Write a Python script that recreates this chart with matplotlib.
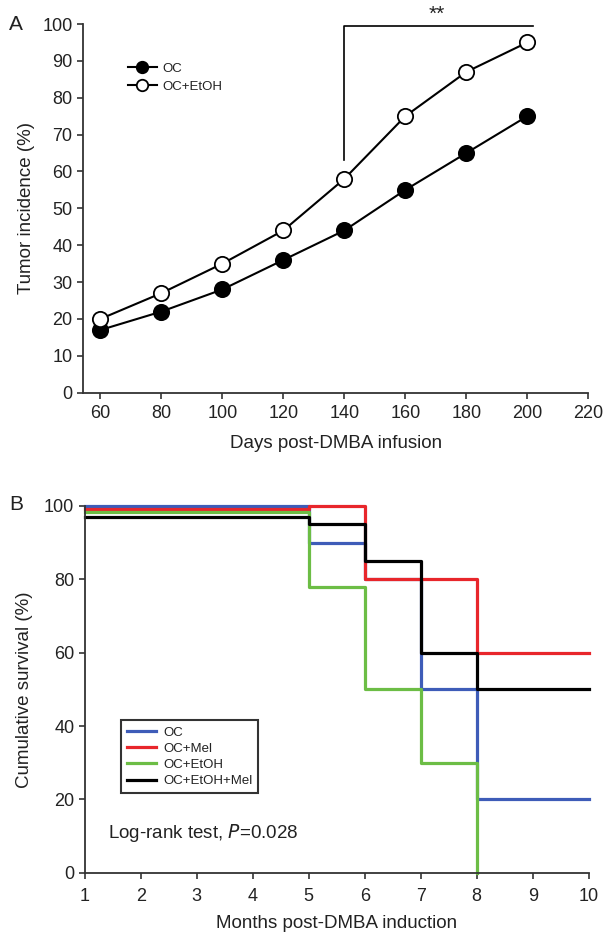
""" Tumor incidence (A) and cumulative survival (B) after DMBA. """

import matplotlib.pyplot as plt

plt.rcParams['font.family'] = ['Liberation Sans', 'DejaVu Sans']

# Panel A: tumor incidence
days = [60, 80, 100, 120, 140, 160, 180, 200]
oc_incidence = [17, 22, 28, 36, 44, 55, 65, 75]
oc_etoh_incidence = [20, 27, 35, 44, 58, 75, 87, 95]
a_xticks = [60, 80, 100, 120, 140, 160, 180, 200, 220]
a_yticks = [0, 10, 20, 30, 40, 50, 60, 70, 80, 90, 100]

# Panel B: survival steps (month, % surviving)
oc_months = [1, 5, 6, 7, 8, 10]
oc_surv = [100, 90, 80, 50, 20, 20]
mel_months = [1, 5, 6, 8, 10]
mel_surv = [99.3, 100, 80, 60, 60]
etoh_months = [1, 5, 6, 7, 8]
etoh_surv = [98.3, 78, 50, 30, 0]
etoh_mel_months = [1, 5, 6, 7, 8, 10]
etoh_mel_surv = [97, 95, 85, 60, 50, 50]
b_xticks = list(range(1, 11))
b_yticks = [0, 20, 40, 60, 80, 100]

TXT = '#222222'


def style_axes(ax):
    ax.spines['top'].set_visible(False)
    ax.spines['right'].set_visible(False)
    for s in ['left', 'bottom']:
        ax.spines[s].set_linewidth(1.3)
        ax.spines[s].set_color('#333333')
    ax.tick_params(direction='out', length=4, width=1.2, labelsize=13,
                   colors='#333333', labelcolor=TXT)


def main():
    fig = plt.figure(figsize=(6.08, 9.36), dpi=100)

    # ---- Panel A ----
    ax = fig.add_axes([83 / 608, 1 - 392.7 / 936, 505.3 / 608, 368.7 / 936])
    ax.plot(days, oc_incidence, color='black', lw=1.5, marker='o', ms=11,
            mfc='black', mec='black', mew=1.3, label='OC', zorder=3)
    ax.plot(days, oc_etoh_incidence, color='black', lw=1.5, marker='o', ms=11,
            mfc='white', mec='black', mew=1.3, label='OC+EtOH', zorder=3)
    ax.set_xlim(54.3, 220)
    ax.set_ylim(0, 100)
    ax.set_xticks(a_xticks)
    ax.set_yticks(a_yticks)
    style_axes(ax)
    ax.tick_params(axis='x', pad=5)
    ax.set_xlabel('Days post-DMBA infusion', fontsize=13.5, color=TXT, labelpad=9)
    ax.set_ylabel('Tumor incidence (%)', fontsize=13.5, color=TXT, labelpad=5)

    # significance bracket
    ax.plot([140, 140, 201.9], [63, 99.5, 99.5], color='black', lw=1.2,
            clip_on=False)
    ax.text(170.4, 102.5, '**', ha='center', va='center', fontsize=15, color=TXT)

    leg = ax.legend(loc='upper left', bbox_to_anchor=(0.078, 0.91), frameon=False,
                    fontsize=9.5, markerscale=0.75, handlelength=2.2,
                    handletextpad=0.4, labelspacing=0.45, borderaxespad=0)
    for t in leg.get_texts():
        t.set_color(TXT)

    fig.text(16 / 608, 1 - 25 / 936, 'A', fontsize=15, color=TXT,
             ha='center', va='center')

    # ---- Panel B ----
    bx = fig.add_axes([84.7 / 608, 1 - 872.7 / 936, 504 / 608, 366.7 / 936])
    lw = 2.3
    bx.step(oc_months, oc_surv, where='post', color='#3e5cb8', lw=lw,
            label='OC', clip_on=False)
    bx.step(mel_months, mel_surv, where='post', color='#e8262b', lw=lw,
            label='OC+Mel', clip_on=False)
    bx.step(etoh_months, etoh_surv, where='post', color='#6cbd45', lw=lw,
            label='OC+EtOH', clip_on=False)
    bx.step(etoh_mel_months, etoh_mel_surv, where='post', color='black', lw=lw,
            label='OC+EtOH+Mel', clip_on=False)
    bx.set_xlim(1, 10)
    bx.set_ylim(0, 100)
    bx.set_xticks(b_xticks)
    bx.set_yticks(b_yticks)
    style_axes(bx)
    bx.tick_params(axis='x', pad=7)
    bx.set_xlabel('Months post-DMBA induction', fontsize=13.5, color=TXT,
                  labelpad=7)
    bx.set_ylabel('Cumulative survival (%)', fontsize=13.5, color=TXT,
                  labelpad=8)

    leg2 = bx.legend(loc='lower left', bbox_to_anchor=(0.072, 0.217),
                     frameon=True, fancybox=False, fontsize=9.5,
                     handlelength=2.2, handletextpad=0.55, labelspacing=0.3,
                     borderpad=0.45, borderaxespad=0)
    leg2.get_frame().set_edgecolor('black')
    leg2.get_frame().set_linewidth(1.5)
    for t in leg2.get_texts():
        t.set_color(TXT)

    bx.text(1.42, 10.7, 'Log-rank test, $\\mathit{P}$=0.028', fontsize=13.5,
            color=TXT, ha='left', va='center')

    fig.text(16 / 608, 1 - 504 / 936, 'B', fontsize=15, color=TXT,
             ha='center', va='center')

    fig.savefig('out.png', dpi=100)


if __name__ == "__main__":
    main()
